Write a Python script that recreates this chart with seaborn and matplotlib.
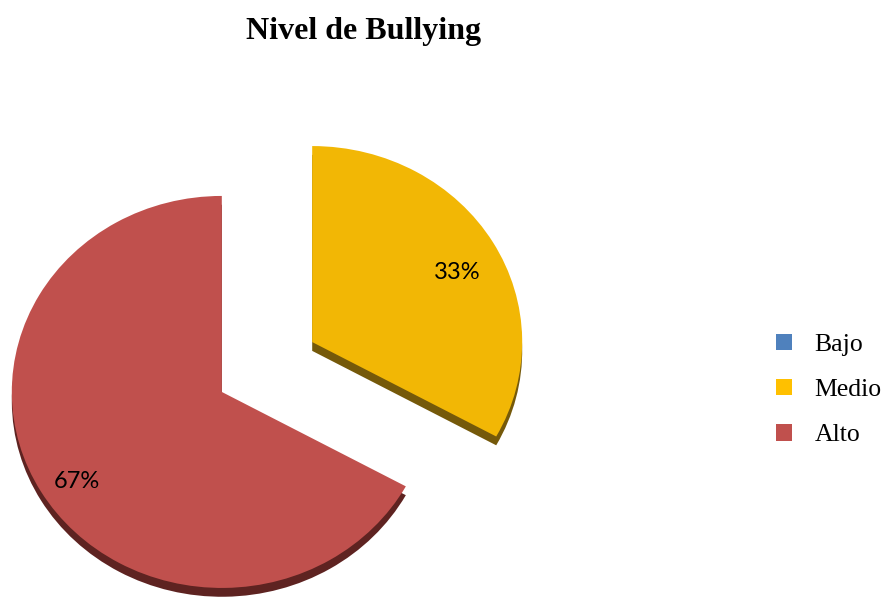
import numpy as np
import matplotlib.pyplot as plt
import seaborn as sns
from matplotlib.patches import Patch

# data
categories = ['Bajo', 'Medio', 'Alto']
values = [0, 33, 67]
title = 'Nivel de Bullying'

slice_colors = ['#4F81BD', '#F2B705', '#C0504D']
shadow_colors = ['#2B4A70', '#75590A', '#5E2321']
legend_colors = ['#4F81BD', '#FFC000', '#C0504D']

sns.set_theme(style='white')
plt.rcParams['font.family'] = ['Liberation Serif', 'DejaVu Serif']
plt.rcParams['text.color'] = 'black'

fig = plt.figure(figsize=(8.85, 6.02), dpi=100)
ax = fig.add_axes([0, 0, 1, 1])

explode = [0.25, 0.25, 0.25]
no_edge = dict(edgecolor='none', linewidth=0)

# fake 3d edge: darker pie slightly lower
ax.pie(values, colors=shadow_colors, startangle=90, counterclock=False,
       explode=explode, center=(0, -0.045), radius=1.0, wedgeprops=no_edge)

wedges, texts, autotexts = ax.pie(
    values, colors=slice_colors, startangle=90, counterclock=False,
    explode=explode, radius=1.0, wedgeprops=no_edge,
    autopct=lambda p: f'{p:.0f}%' if p > 0 else '',
    pctdistance=0.8,
    textprops=dict(family='Lato', fontsize=17, color='black'))

# nudge the % labels down a little, like the original
for t in autotexts:
    x, y = t.get_position()
    t.set_position((x, y - 0.05))

# slightly tilted look: wider than tall
ax.set_aspect('auto')
ax.set_xlim(-267 / 210, (885 - 267) / 210)
ax.set_ylim((367 - 602) / 196, 367 / 196)
ax.axis('off')

fig.text(364 / 885, 1 - 31 / 602, title, ha='center', va='center',
         fontsize=23, fontweight='bold', color='black')

handles = [Patch(facecolor=c, edgecolor='none') for c in legend_colors]
ax.legend(handles, categories, loc='center left',
          bbox_to_anchor=(753 / 885, 1 - 390 / 602),
          bbox_transform=fig.transFigure,
          frameon=False, fontsize=18.5, handlelength=0.6, handleheight=0.6,
          handletextpad=0.9, labelspacing=0.9, labelcolor='black')

fig.savefig('out.png', dpi=100)
